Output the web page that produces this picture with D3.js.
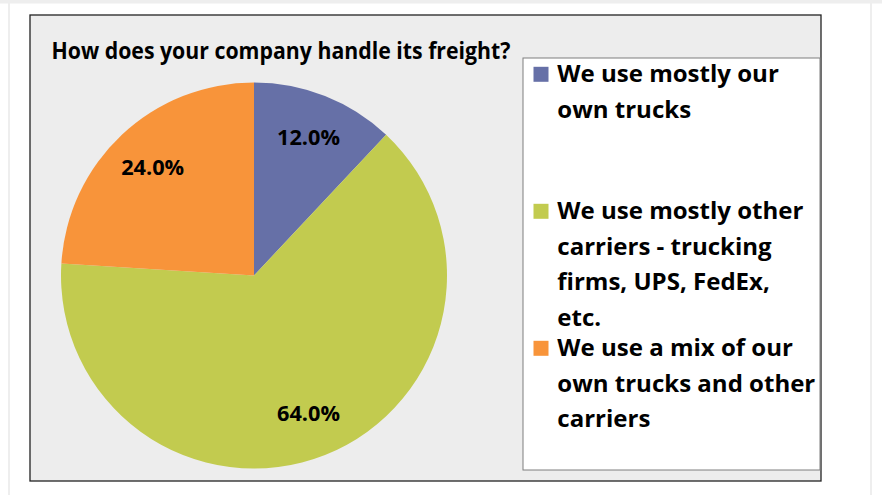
<!DOCTYPE html>
<html>
<head>
<meta charset="utf-8">
<script src="https://cdn.jsdelivr.net/npm/d3@7"></script>
<style>
  html, body { margin: 0; padding: 0; background: #ffffff; }
  svg { display: block; }
  text { font-family: "Open Sans", Lato, "Liberation Sans", sans-serif; font-weight: 700; fill: #000; }
</style>
</head>
<body>
<svg id="chart" width="882" height="495"></svg>
<script>
// ---- data ----
const title = "How does your company handle its freight?";
const categories = [
  "We use mostly our own trucks",
  "We use mostly other carriers - trucking firms, UPS, FedEx, etc.",
  "We use a mix of our own trucks and other carriers"
];
const values = [12.0, 64.0, 24.0];
const legendLines = [
  ["We use mostly our", "own trucks"],
  ["We use mostly other", "carriers - trucking", "firms, UPS, FedEx,", "etc."],
  ["We use a mix of our", "own trucks and other", "carriers"]
];
const colors = ["#6670A7", "#C2CB4F", "#F8943A"];

// ---- layout ----
const W = 882, H = 495;
const svg = d3.select("#chart");

// page frame
svg.append("rect").attr("x", 0).attr("y", 0).attr("width", W).attr("height", 3.5).attr("fill", "#EEEEEE");
svg.append("line").attr("x1", 9).attr("x2", 9).attr("y1", 3).attr("y2", H).attr("stroke", "#EEEEEE").attr("stroke-width", 2);
svg.append("line").attr("x1", 871).attr("x2", 871).attr("y1", 3).attr("y2", H).attr("stroke", "#EEEEEE").attr("stroke-width", 2);

// chart area
const box = {x: 30, y: 15, w: 791, h: 466};
svg.append("rect").attr("x", box.x).attr("y", box.y).attr("width", box.w).attr("height", box.h)
  .attr("fill", "#EDEDED").attr("stroke", "#222").attr("stroke-width", 1.3);

// title
svg.append("text").attr("x", 51.5).attr("y", 59.3)
  .style("font-size", "23px").text(title)
  .attr("textLength", 459).attr("lengthAdjust", "spacingAndGlyphs");

// pie
const cx = 254, cy = 275.5, R = 193;
const pie = d3.pie().sort(null).value(d => d.value).startAngle(0).endAngle(2 * Math.PI);
const data = categories.map((c, i) => ({cat: c, value: values[i], color: colors[i]}));
const arcs = pie(data);
const arc = d3.arc().innerRadius(0).outerRadius(R);
const labelArc = d3.arc().innerRadius(148).outerRadius(148);
const g = svg.append("g").attr("transform", `translate(${cx},${cy})`);
g.selectAll("path.slice").data(arcs).join("path")
  .attr("class", "slice").attr("d", arc).attr("fill", d => d.data.color);

const fmt = d3.format(".1%");
g.selectAll("text.lbl").data(arcs).join("text")
  .attr("class", "lbl")
  .attr("text-anchor", "middle")
  .style("font-size", "21.5px")
  .attr("x", d => labelArc.centroid(d)[0])
  .attr("y", d => labelArc.centroid(d)[1] + 7.5)
  .text(d => fmt(d.data.value / 100))
  .attr("textLength", 63).attr("lengthAdjust", "spacingAndGlyphs");

// legend
const leg = {x: 523, y: 58, w: 297, h: 412};
svg.append("rect").attr("x", leg.x).attr("y", leg.y).attr("width", leg.w).attr("height", leg.h)
  .attr("fill", "#FFFFFF").attr("stroke", "#7F7F7F").attr("stroke-width", 1);

const slot = 137, firstBase = 82.3, lineH = 35.5;
const entries = svg.append("g").selectAll("g.entry").data(data).join("g")
  .attr("class", "entry")
  .attr("transform", (d, i) => `translate(0,${firstBase + i * slot})`);
entries.append("rect")
  .attr("x", 533.5).attr("y", -15.5).attr("width", 15).attr("height", 15)
  .attr("fill", d => d.color);
const lineTexts = entries.selectAll("text").data((d, i) => legendLines[i]).join("text")
  .attr("x", 557.3)
  .attr("y", (d, j) => j * lineH)
  .style("font-size", "24px")
  .text(d => d);

// compress legend text horizontally to match reference width
let refW = 0;
lineTexts.each(function(d) { if (d === "own trucks and other") refW = this.getComputedTextLength(); });
const ratio = refW > 0 ? 258 / refW : 1;
lineTexts.each(function() {
  const n = this.getComputedTextLength();
  d3.select(this).attr("textLength", n * ratio).attr("lengthAdjust", "spacingAndGlyphs");
});
</script>
</body>
</html>
